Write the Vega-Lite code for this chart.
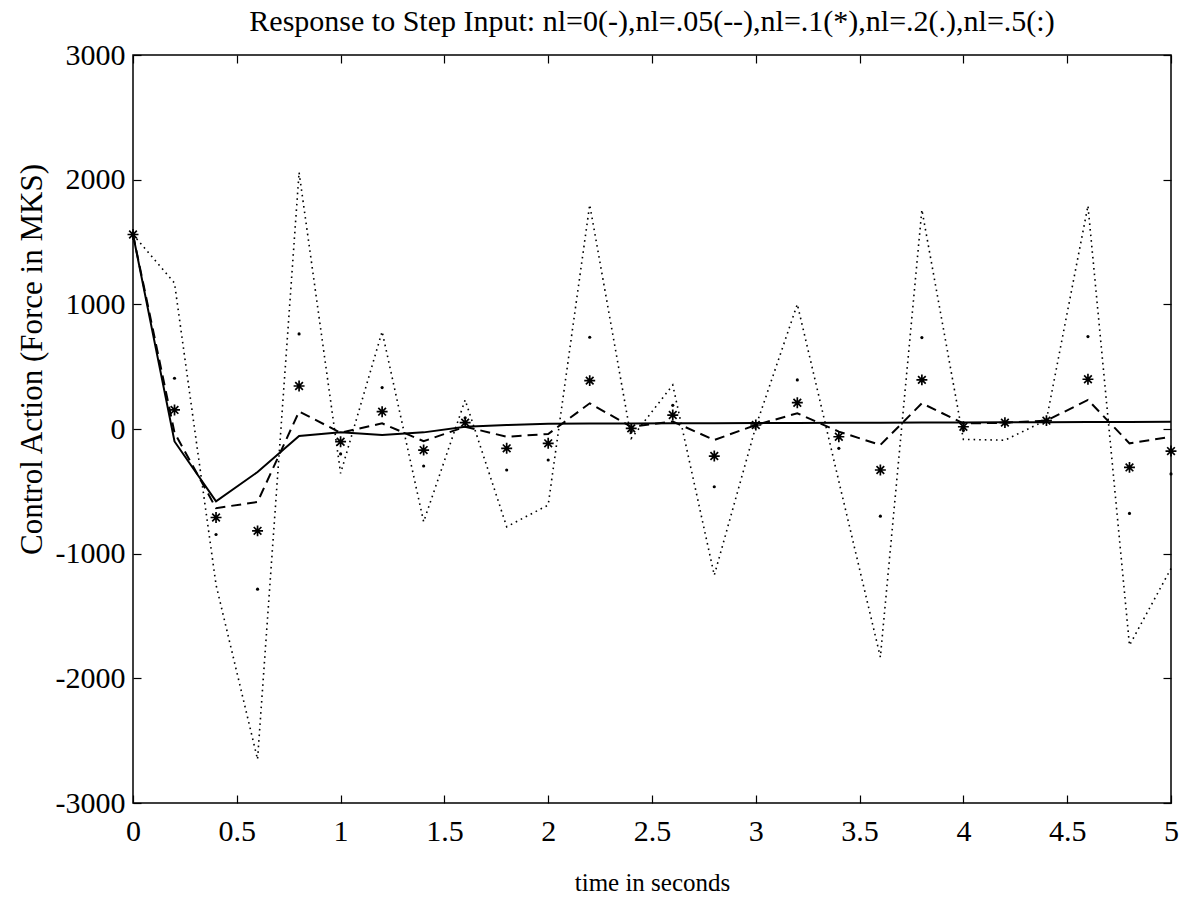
{
  "$schema": "https://vega.github.io/schema/vega-lite/v6.json",
  "width": 1038,
  "height": 748,
  "autosize": {"type": "none"},
  "padding": {"left": 133, "top": 55, "right": 9, "bottom": 99},
  "background": "white",
  "config": {
    "font": "Liberation Serif",
    "view": {"stroke": "black", "strokeWidth": 1.5},
    "axis": {"grid": false, "domainColor": "black", "domainWidth": 1.5, "tickColor": "black", "tickWidth": 1.2, "labelColor": "black", "titleColor": "black", "titleFontWeight": "normal", "labelFont": "Liberation Serif", "titleFont": "Liberation Serif", "labelFontSize": 30, "titleFontSize": 25}
  },
  "title": {"text": "Response to Step Input: nl=0(-),nl=.05(--),nl=.1(*),nl=.2(.),nl=.5(:)", "fontSize": 30, "fontWeight": "normal", "font": "Liberation Serif", "color": "black", "anchor": "middle", "offset": 3},
  "datasets": {
    "nl0": [
      {"t": 0, "v": 1560}, {"t": 0.2, "v": -100}, {"t": 0.4, "v": -580}, {"t": 0.6, "v": -345}, {"t": 0.8, "v": -56},
      {"t": 1, "v": -27}, {"t": 1.2, "v": -48}, {"t": 1.4, "v": -27}, {"t": 1.6, "v": 18}, {"t": 1.8, "v": 32},
      {"t": 2, "v": 42}, {"t": 2.2, "v": 44}, {"t": 2.4, "v": 45}, {"t": 2.6, "v": 46}, {"t": 2.8, "v": 47},
      {"t": 3, "v": 48}, {"t": 3.2, "v": 49}, {"t": 3.4, "v": 50}, {"t": 3.6, "v": 51}, {"t": 3.8, "v": 52},
      {"t": 4, "v": 53}, {"t": 4.2, "v": 54}, {"t": 4.4, "v": 55}, {"t": 4.6, "v": 56}, {"t": 4.8, "v": 57}, {"t": 5, "v": 58}
    ],
    "nl05": [
      {"t": 0, "v": 1560}, {"t": 0.2, "v": -30}, {"t": 0.4, "v": -635}, {"t": 0.6, "v": -585}, {"t": 0.8, "v": 140},
      {"t": 1, "v": -30}, {"t": 1.2, "v": 45}, {"t": 1.4, "v": -98}, {"t": 1.6, "v": 18}, {"t": 1.8, "v": -62},
      {"t": 2, "v": -40}, {"t": 2.2, "v": 206}, {"t": 2.4, "v": 18}, {"t": 2.6, "v": 60}, {"t": 2.8, "v": -88},
      {"t": 3, "v": 32}, {"t": 3.2, "v": 126}, {"t": 3.4, "v": -21}, {"t": 3.6, "v": -128}, {"t": 3.8, "v": 206},
      {"t": 4, "v": 45}, {"t": 4.2, "v": 50}, {"t": 4.4, "v": 67}, {"t": 4.6, "v": 233}, {"t": 4.8, "v": -115}, {"t": 5, "v": -62}
    ],
    "nl1": [
      {"t": 0, "v": 1560}, {"t": 0.2, "v": 153}, {"t": 0.4, "v": -710}, {"t": 0.6, "v": -817}, {"t": 0.8, "v": 345},
      {"t": 1, "v": -102}, {"t": 1.2, "v": 139}, {"t": 1.4, "v": -169}, {"t": 1.6, "v": 51}, {"t": 1.8, "v": -155},
      {"t": 2, "v": -115}, {"t": 2.2, "v": 388}, {"t": 2.4, "v": 5}, {"t": 2.6, "v": 112}, {"t": 2.8, "v": -217},
      {"t": 3, "v": 32}, {"t": 3.2, "v": 211}, {"t": 3.4, "v": -62}, {"t": 3.6, "v": -329}, {"t": 3.8, "v": 394},
      {"t": 4, "v": 18}, {"t": 4.2, "v": 51}, {"t": 4.4, "v": 67}, {"t": 4.6, "v": 399}, {"t": 4.8, "v": -308}, {"t": 5, "v": -177}
    ],
    "nl2": [
      {"t": 0, "v": 1560}, {"t": 0.2, "v": 407}, {"t": 0.4, "v": -846}, {"t": 0.6, "v": -1285}, {"t": 0.8, "v": 763},
      {"t": 1, "v": -200}, {"t": 1.2, "v": 332}, {"t": 1.4, "v": -297}, {"t": 1.6, "v": 90}, {"t": 1.8, "v": -329},
      {"t": 2, "v": -249}, {"t": 2.2, "v": 736}, {"t": 2.4, "v": -20}, {"t": 2.6, "v": 190}, {"t": 2.8, "v": -463},
      {"t": 3, "v": 30}, {"t": 3.2, "v": 394}, {"t": 3.4, "v": -155}, {"t": 3.6, "v": -699}, {"t": 3.8, "v": 733},
      {"t": 4, "v": -10}, {"t": 4.2, "v": 40}, {"t": 4.4, "v": 70}, {"t": 4.6, "v": 741}, {"t": 4.8, "v": -677}, {"t": 5, "v": -360}
    ],
    "nl5": [
      {"t": 0, "v": 1560}, {"t": 0.2, "v": 1170}, {"t": 0.4, "v": -1250}, {"t": 0.6, "v": -2650}, {"t": 0.8, "v": 2059},
      {"t": 1, "v": -356}, {"t": 1.2, "v": 782}, {"t": 1.4, "v": -744}, {"t": 1.6, "v": 233}, {"t": 1.8, "v": -784},
      {"t": 2, "v": -610}, {"t": 2.2, "v": 1799}, {"t": 2.4, "v": -75}, {"t": 2.6, "v": 353}, {"t": 2.8, "v": -1173},
      {"t": 3, "v": 20}, {"t": 3.2, "v": 1001}, {"t": 3.4, "v": -420}, {"t": 3.6, "v": -1830}, {"t": 3.8, "v": 1759},
      {"t": 4, "v": -83}, {"t": 4.2, "v": -90}, {"t": 4.4, "v": 72}, {"t": 4.6, "v": 1791}, {"t": 4.8, "v": -1735}, {"t": 5, "v": -1119}
    ]
  },
  "layer": [
    {
      "data": {"name": "nl0"},
      "mark": {"type": "line", "color": "black", "strokeWidth": 2},
      "encoding": {
        "x": {"field": "t", "type": "quantitative", "scale": {"domain": [0, 5], "nice": false, "zero": false},
          "axis": {"orient": "bottom", "title": "time in seconds", "values": [0, 0.5, 1, 1.5, 2, 2.5, 3, 3.5, 4, 4.5, 5], "labelExpr": "'' + datum.value", "tickSize": -8, "labelPadding": 21, "titlePadding": 24, "domain": false, "labelFlush": false, "labelOverlap": false}},
        "y": {"field": "v", "type": "quantitative", "scale": {"domain": [-3000, 3000], "nice": false},
          "axis": {"orient": "left", "title": "Control Action (Force in MKS)", "titleFontSize": 31, "titleY": 304, "values": [-3000, -2000, -1000, 0, 1000, 2000, 3000], "labelExpr": "'' + datum.value", "tickSize": -8, "labelPadding": 16, "titlePadding": 7, "domain": false, "labelFlush": false, "labelOverlap": false}}
      }
    },
    {
      "data": {"name": "nl05"},
      "mark": {"type": "line", "color": "black", "strokeWidth": 2, "strokeDash": [10, 6]},
      "encoding": {
        "x": {"field": "t", "type": "quantitative", "axis": null},
        "y": {"field": "v", "type": "quantitative", "axis": null}
      }
    },
    {
      "data": {"name": "nl1"},
      "mark": {"type": "point", "shape": "M-1,0L1,0M0,-1L0,1M-0.7,-0.7L0.7,0.7M-0.7,0.7L0.7,-0.7", "filled": false, "color": "black", "strokeWidth": 1.7, "size": 120, "opacity": 1},
      "encoding": {
        "x": {"field": "t", "type": "quantitative", "axis": null},
        "y": {"field": "v", "type": "quantitative", "axis": null}
      }
    },
    {
      "data": {"name": "nl2"},
      "mark": {"type": "point", "shape": "circle", "filled": true, "color": "black", "size": 10, "opacity": 1},
      "encoding": {
        "x": {"field": "t", "type": "quantitative", "axis": null},
        "y": {"field": "v", "type": "quantitative", "axis": null}
      }
    },
    {
      "data": {"name": "nl5"},
      "mark": {"type": "line", "color": "black", "strokeWidth": 1.6, "strokeDash": [1.6, 4]},
      "encoding": {
        "x": {"field": "t", "type": "quantitative",
          "axis": {"orient": "top", "title": null, "labels": false, "values": [0, 0.5, 1, 1.5, 2, 2.5, 3, 3.5, 4, 4.5, 5], "tickSize": -8, "domain": false}},
        "y": {"field": "v", "type": "quantitative",
          "axis": {"orient": "right", "title": null, "labels": false, "values": [-3000, -2000, -1000, 0, 1000, 2000, 3000], "tickSize": -8, "domain": false}}
      }
    }
  ],
  "resolve": {"axis": {"x": "independent", "y": "independent"}}
}
